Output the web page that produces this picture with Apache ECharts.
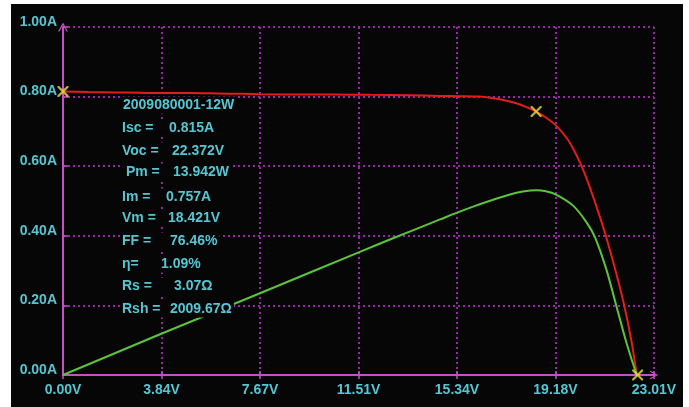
<!DOCTYPE html>
<html>
<head>
<meta charset="utf-8">
<script src="https://cdn.jsdelivr.net/npm/echarts@6/dist/echarts.min.js"></script>
<style>
html,body{margin:0;padding:0;background:#fff;}
#c{width:689px;height:407px;}
</style>
</head>
<body>
<div id="c"></div>
<script>
// ---- data ----
var xMax = 23.01;
var xTickLabels = ['0.00V','3.84V','7.67V','11.51V','15.34V','19.18V','23.01V'];
var yTickLabels = ['0.00A','0.20A','0.40A','0.60A','0.80A','1.00A'];

// I-V curve (V, A)
var ivV = [0, 1.0, 2.0, 3.0, 4.0, 5.0, 6.0, 7.0, 7.67, 9.0, 10.5, 12.0, 13.5, 14.68, 15.5, 16.2, 16.62, 17.1, 17.68, 18.0, 18.42, 18.8, 19.18, 19.61, 19.9, 20.19, 20.42, 20.65, 20.9, 21.13, 21.49, 21.85, 22.14, 22.34];
var ivI = [0.815, 0.813, 0.812, 0.811, 0.810, 0.810, 0.809, 0.808, 0.807, 0.806, 0.806, 0.805, 0.804, 0.802, 0.801, 0.800, 0.797, 0.791, 0.780, 0.771, 0.757, 0.740, 0.718, 0.681, 0.645, 0.600, 0.558, 0.510, 0.455, 0.401, 0.306, 0.200, 0.094, 0.0];

// P-V curve (scaled to current axis)
var pvV = [0, 3.78, 7.67, 11.56, 12.85, 14.68, 15.32, 15.97, 16.6, 17.27, 17.9, 18.44, 18.8, 19.18, 19.87, 20.39, 20.71, 21.16, 21.55, 21.94, 22.34];
var pvP = [0, 0.117, 0.235, 0.354, 0.393, 0.447, 0.466, 0.484, 0.500, 0.516, 0.527, 0.531, 0.528, 0.519, 0.486, 0.438, 0.396, 0.302, 0.197, 0.092, 0.0];

// key points: Isc, (Vm, Im), Voc
var keyV = [0, 18.421, 22.372];
var keyI = [0.815, 0.757, 0];

// parameter text
var infoTitle = '2009080001-12W';
var infoLabels = ['Isc =', 'Voc =', ' Pm =', 'Im =', 'Vm =', 'FF =', 'η=', 'Rs =', 'Rsh ='];
var infoValues = ['0.815A', '22.372V', '13.942W', '0.757A', '18.421V', '76.46%', '1.09%', '3.07Ω', '2009.67Ω'];

// ---- layout / style ----
var cyan = '#55c6d2';
var axisCol = '#c452c4';
var gridCol = '#9a26a8';
var bg = '#060606';
var font = '"Liberation Sans", Arial, sans-serif';

var infoY = [128, 151, 172, 197, 218, 241, 264, 286, 309];
var infoLX = 122;
var infoVX = [169, 172, 173, 166, 168, 170, 161, 174, 170];

var textStyleBase = {fill: cyan, fontSize: 14, fontWeight: 'bold', fontFamily: font,
  verticalAlign: 'middle', backgroundColor: bg, lineHeight: 17, padding: [0, 2, 0, 0]};

var graphics = [{
  type: 'rect', z: -10, silent: true,
  shape: {x: 11, y: 4, width: 672, height: 403},
  style: {fill: bg}
}, {
  type: 'text', x: 123, y: 105, z: 100,
  style: Object.assign({text: infoTitle}, textStyleBase)
}];
for (var i = 0; i < infoLabels.length; i++) {
  var st = Object.assign({}, textStyleBase, {
    text: '{l|' + infoLabels[i] + '}{v|' + infoValues[i] + '}',
    rich: {
      l: {width: infoVX[i] - infoLX, fill: cyan, fontSize: 14, fontWeight: 'bold', fontFamily: font, lineHeight: 17},
      v: {fill: cyan, fontSize: 14, fontWeight: 'bold', fontFamily: font, lineHeight: 17}
    }
  });
  graphics.push({type: 'text', x: infoLX, y: infoY[i], z: 100, style: st});
}

function zip(a, b) { return a.map(function (v, i) { return [v, b[i]]; }); }

var arrowUp = 'path://M5,0 L10,9 L8.6,9 L5,2.6 L1.4,9 L0,9 Z';
var xSymbol = 'path://M0,0 L1.4,0 L5,3.6 L8.6,0 L10,0 L10,1.4 L6.4,5 L10,8.6 L10,10 L8.6,10 L5,6.4 L1.4,10 L0,10 L0,8.6 L3.6,5 L0,1.4 Z';

var chart = echarts.init(document.getElementById('c'), null, {renderer: 'canvas'});
chart.setOption({
  backgroundColor: '#ffffff',
  animation: false,
  grid: {left: 63, right: 35, top: 27, bottom: 32},
  graphic: graphics,
  xAxis: [{
    type: 'value', min: 0, max: xMax, interval: xMax / 6,
    axisLine: {show: true, lineStyle: {color: axisCol, width: 2}, symbol: ['none', arrowUp], symbolSize: [9, 9]},
    axisTick: {show: true, length: 4, lineStyle: {color: axisCol, width: 1.5}},
    axisLabel: {color: cyan, fontSize: 14, fontWeight: 'bold', fontFamily: font, margin: 8,
      formatter: function (v) { return xTickLabels[Math.round(v / (xMax / 6))]; }},
    splitLine: {show: true, lineStyle: {color: gridCol, width: 2, type: [2, 3]}}
  }, {
    type: 'value', min: 0, max: xMax, interval: xMax / 6, position: 'bottom',
    axisLine: {show: false}, axisLabel: {show: false}, splitLine: {show: false},
    axisTick: {show: true, inside: true, length: 4, lineStyle: {color: axisCol, width: 1.5}}
  }],
  yAxis: [{
    type: 'value', min: 0, max: 1, interval: 0.2,
    axisLine: {show: true, lineStyle: {color: axisCol, width: 2}, symbol: ['none', arrowUp], symbolSize: [10, 9]},
    axisTick: {show: true, inside: true, length: 5, lineStyle: {color: axisCol, width: 1.5}},
    axisLabel: {color: cyan, fontSize: 14, fontWeight: 'bold', fontFamily: font, margin: 6,
      verticalAlign: 'bottom', lineHeight: 10,
      formatter: function (v) { return yTickLabels[Math.round(v / 0.2)]; }},
    splitLine: {show: true, lineStyle: {color: gridCol, width: 2, type: [2, 3]}}
  }],
  series: [{
    type: 'line', data: zip(ivV, ivI), smooth: 0.25, showSymbol: false,
    lineStyle: {color: '#e41c1c', width: 2}, z: 3
  }, {
    type: 'line', data: zip(pvV, pvP), smooth: 0.25, showSymbol: false,
    lineStyle: {color: '#5cc43a', width: 2}, z: 4
  }, {
    type: 'scatter', data: zip(keyV, keyI), symbol: xSymbol, symbolSize: 11,
    itemStyle: {color: '#f0e040'}, z: 6
  }]
});
</script>
</body>
</html>
